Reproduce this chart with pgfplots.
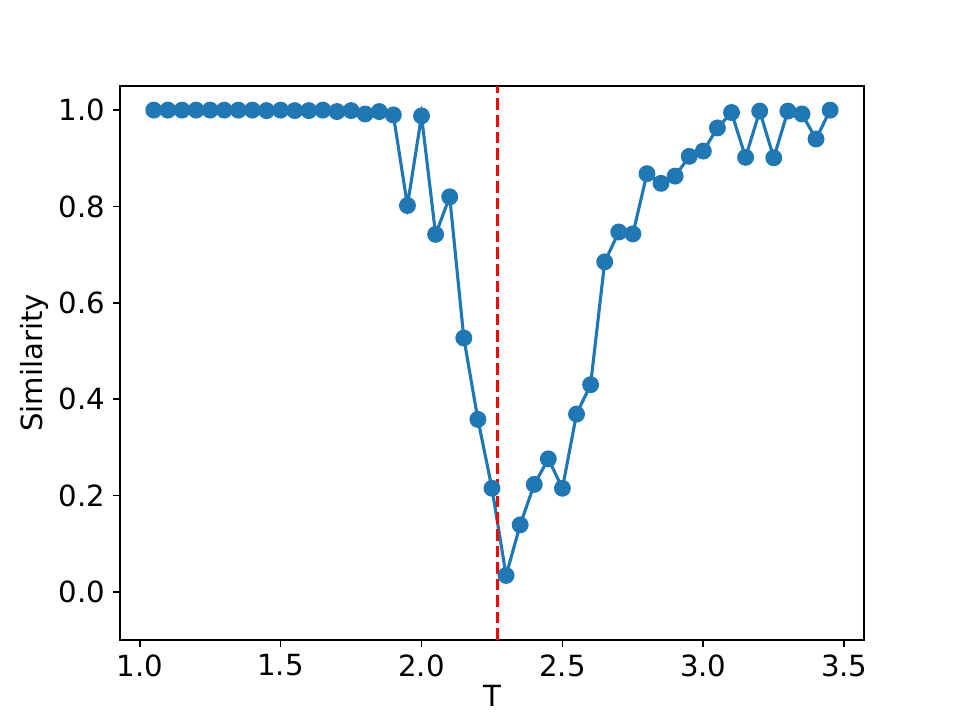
\documentclass[border=0pt]{standalone}
\usepackage{pgfplots}
\pgfplotsset{compat=1.18}
\usepackage{fontspec}
\setmainfont{DejaVu Sans}
\definecolor{c0}{HTML}{1F77B4}
\begin{document}
\begin{tikzpicture}
\path[use as bounding box] (-57.6pt,-38.4pt) rectangle (403.2pt,307.2pt);
\begin{axis}[
  at={(0,0)}, anchor=south west,
  scale only axis, width=357.1pt, height=265.9pt,
  xmin=0.93, xmax=3.57, ymin=-0.1, ymax=1.05,
  xtick={1.0,1.5,2.0,2.5,3.0,3.5},
  ytick={0,0.2,0.4,0.6,0.8,1.0},
  xticklabel style={/pgf/number format/.cd,fixed,fixed zerofill,precision=1},
  yticklabel style={/pgf/number format/.cd,fixed,fixed zerofill,precision=1},
  /pgf/number format/assume math mode=true,
  tick align=outside, major tick length=3.5pt,
  tick style={line width=0.8pt, black},
  axis line style={line width=0.8pt},
  xtick pos=bottom, ytick pos=left,
  ticklabel style={font=\fontsize{14}{16}\selectfont},
  label style={font=\fontsize{14}{16}\selectfont},
  xlabel={T}, ylabel={Similarity},
  xlabel style={yshift=3pt},
  ylabel style={yshift=-2pt},
  clip=true,
]
\addplot[c0, line width=1.5pt, mark=*, mark size=3.3pt, mark options={solid, fill=c0, draw=c0}] coordinates {
(1.05,1.000) (1.10,1.000) (1.15,1.000) (1.20,1.000) (1.25,1.000) (1.30,1.000)
(1.35,1.000) (1.40,1.000) (1.45,0.999) (1.50,1.000) (1.55,0.999) (1.60,0.999)
(1.65,1.000) (1.70,0.997) (1.75,0.999) (1.80,0.992) (1.85,0.997) (1.90,0.990)
(1.95,0.802) (2.00,0.988) (2.05,0.742) (2.10,0.820) (2.15,0.527) (2.20,0.358)
(2.25,0.215) (2.30,0.034) (2.35,0.139) (2.40,0.223) (2.45,0.276) (2.50,0.215)
(2.55,0.369) (2.60,0.430) (2.65,0.685) (2.70,0.747) (2.75,0.743) (2.80,0.868)
(2.85,0.848) (2.90,0.863) (2.95,0.904) (3.00,0.915) (3.05,0.963) (3.10,0.995)
(3.15,0.902) (3.20,0.998) (3.25,0.901) (3.30,0.998) (3.35,0.992) (3.40,0.940)
(3.45,1.000)
};
\addplot[red, line width=1.5pt, dash pattern=on 5.55pt off 2.4pt] coordinates {(2.269,-0.1) (2.269,1.05)};
\end{axis}
\end{tikzpicture}
\end{document}
